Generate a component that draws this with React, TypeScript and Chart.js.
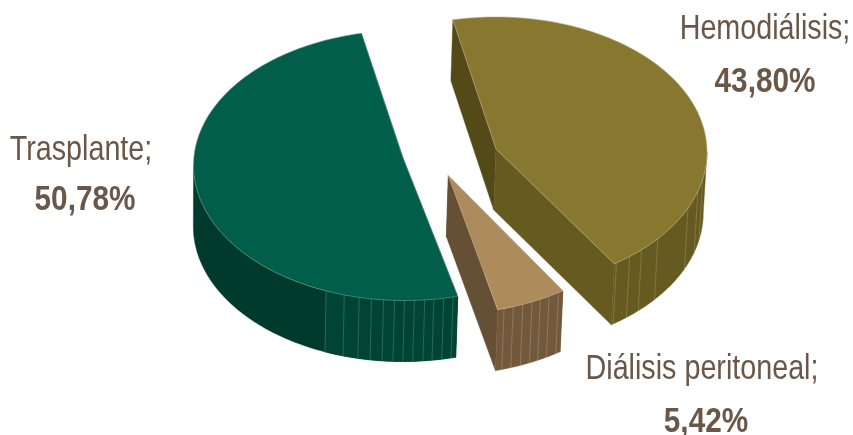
import React, { useEffect, useRef } from "react";
import { Chart, ArcElement, PieController } from "chart.js";

Chart.register(ArcElement, PieController);

// Treatment shares, in percent, drawn clockwise from the upper left
const categories = ["Hemodiálisis", "Diálisis peritoneal", "Trasplante"];
const shares = [43.8, 5.42, 50.78];

const topColors = ["#87772f", "#ad8b5c", "#005e4a"];
const wallColors = ["#655a1f", "#73593c", "#003a2c"];
const ribbedWallColors = ["#655a1f", "#73593c", "#004434"];
const startFaceColors = ["#544a18", "#655036", "#003a2c"];
const endFaceColors = ["#655a1f", "#655036", "#003a2c"];

// Where each exploded slice has its tip, and where its rim ellipse is centred
const sliceTips = [
  [496, 149],
  [448.3, 175.7],
  [403, 158],
];
const rimCentres = [
  [496, 152],
  [444.5, 179],
  [404.5, 165.5],
];

// Facet seams on the outer walls, in degrees clockwise from the +x axis
const wallRibs = [
  [11.5, 16.9, 24.5, 39.9, 46.4, 50.7, 55.2],
  [57.3, 60.3, 63, 65.5, 68.2, 71, 73.6],
  [76.7, 79.3, 82, 84.5, 87.3, 90, 92.7, 95.7, 99, 102.4, 106.6, 111.8],
];
// Angle where the lighter ribbed stretch of a wall ends; null when the wall is uniform
const ribbedUntil = [null, null, 112];

// Caption anchor per slice: name x centre, name baseline, value x centre, value baseline
const labelAnchors = [
  [765, 39, 765, 92],
  [702, 379, 706, 432],
  [81, 160, 85, 210],
];

const ROTATION_DEG = -11.8;
const RADIUS = 211;
const TILT = 0.64;
const DEPTH_Y = 61;
const DEPTH_SKEW = 0.007;
const DEPTH_ORIGIN_X = 170;
const TEXT_COLOR = "#6a5748";
const FONT = '"Liberation Sans", Arial, sans-serif';
const FONT_SIZE = 35;
const CONDENSE = 0.82;
const CONDENSE_BOLD = 0.85;

const percentText = (v: number) => v.toFixed(2).replace(".", ",") + "%";

const fillPath = (ctx: CanvasRenderingContext2D, pts: number[][], color: string) => {
  ctx.beginPath();
  pts.forEach(([x, y], i) => (i ? ctx.lineTo(x, y) : ctx.moveTo(x, y)));
  ctx.closePath();
  ctx.fillStyle = color;
  ctx.fill();
  // matching stroke closes antialiasing seams between faces
  ctx.strokeStyle = color;
  ctx.lineWidth = 0.4;
  ctx.stroke();
};

const sunk = ([x, y]: number[]) => [x - (x - DEPTH_ORIGIN_X) * DEPTH_SKEW, y + DEPTH_Y];

const rad = (deg: number) => (deg * Math.PI) / 180;

// Tilted, extruded rendering of the arcs the pie controller has laid out
const extrudedPie = {
  id: "extrudedPie",
  beforeDatasetDraw(chart: Chart) {
    const ctx = chart.ctx;
    const arcs = chart.getDatasetMeta(0).data as any[];
    for (const i of [0, 2, 1]) {
      const { startAngle, endAngle, outerRadius } = arcs[i].getProps(
        ["startAngle", "endAngle", "outerRadius"],
        true
      );
      const [cx, cy] = rimCentres[i];
      const rim = (a: number) => [
        cx + outerRadius * Math.cos(a),
        cy + TILT * outerRadius * Math.sin(a),
      ];
      const rimBetween = (a0: number, a1: number) => {
        const n = Math.max(4, Math.ceil(((a1 - a0) * 180) / Math.PI));
        return Array.from({ length: n + 1 }, (_, s) => rim(a0 + ((a1 - a0) * s) / n));
      };
      const tip = sliceTips[i];
      const rimPts = rimBetween(startAngle, endAngle);
      const first = rimPts[0];
      const last = rimPts[rimPts.length - 1];

      // radial cut faces
      fillPath(ctx, [tip, first, sunk(first), sunk(tip)], startFaceColors[i]);
      fillPath(ctx, [tip, last, sunk(last), sunk(tip)], endFaceColors[i]);

      // outer wall, front half only: the back half sits behind the top face
      const a0 = Math.max(startAngle, 0);
      const a1 = Math.min(endAngle, Math.PI);
      const wall = rimBetween(a0, a1);
      fillPath(ctx, [...wall, ...wall.slice().reverse().map(sunk)], wallColors[i]);
      const until = ribbedUntil[i];
      if (until !== null) {
        const band = rimBetween(a0, Math.min(a1, rad(until)));
        fillPath(ctx, [...band, ...band.slice().reverse().map(sunk)], ribbedWallColors[i]);
      }

      // facet seams
      ctx.strokeStyle = "rgba(255,255,255,0.26)";
      ctx.lineWidth = 0.7;
      for (const deg of wallRibs[i]) {
        const p = rim(rad(deg));
        const q = sunk(p);
        ctx.beginPath();
        ctx.moveTo(p[0], p[1]);
        ctx.lineTo(q[0], q[1]);
        ctx.stroke();
      }

      // top face with its pale edge
      fillPath(ctx, [tip, ...rimPts], topColors[i]);
      ctx.beginPath();
      ctx.moveTo(tip[0], tip[1]);
      rimPts.forEach(([x, y]) => ctx.lineTo(x, y));
      ctx.closePath();
      ctx.strokeStyle = "rgba(255,255,255,0.4)";
      ctx.lineWidth = 0.6;
      ctx.stroke();
    }
    return false;
  },
  afterDraw(chart: Chart) {
    const ctx = chart.ctx;
    ctx.fillStyle = TEXT_COLOR;
    ctx.textAlign = "center";
    ctx.textBaseline = "alphabetic";
    const condensed = (text: string, font: string, squeeze: number, x: number, y: number) => {
      ctx.save();
      ctx.translate(x, y);
      ctx.scale(squeeze, 1);
      ctx.font = font;
      ctx.fillText(text, 0, 0);
      ctx.restore();
    };
    categories.forEach((name, i) => {
      const [nameX, nameY, valueX, valueY] = labelAnchors[i];
      condensed(`${name};`, `${FONT_SIZE}px ${FONT}`, CONDENSE, nameX, nameY);
      condensed(percentText(shares[i]), `bold ${FONT_SIZE}px ${FONT}`, CONDENSE_BOLD, valueX, valueY);
    });
  },
};

export default function App() {
  const ref = useRef<HTMLCanvasElement | null>(null);

  useEffect(() => {
    document.body.style.background = "#ffffff";
    const chart = new Chart(ref.current!, {
      type: "pie",
      data: {
        labels: categories,
        datasets: [{ data: shares, backgroundColor: topColors, borderWidth: 0 }],
      },
      options: {
        responsive: false,
        animation: false,
        rotation: ROTATION_DEG,
        radius: RADIUS,
        events: [],
        plugins: { legend: { display: false }, tooltip: { enabled: false } },
      },
      plugins: [extrudedPie],
    } as any);
    return () => chart.destroy();
  }, []);

  return (
    <canvas
      ref={ref}
      width={853}
      height={435}
      style={{ position: "fixed", left: 0, top: 0, width: 853, height: 435, display: "block" }}
    />
  );
}
